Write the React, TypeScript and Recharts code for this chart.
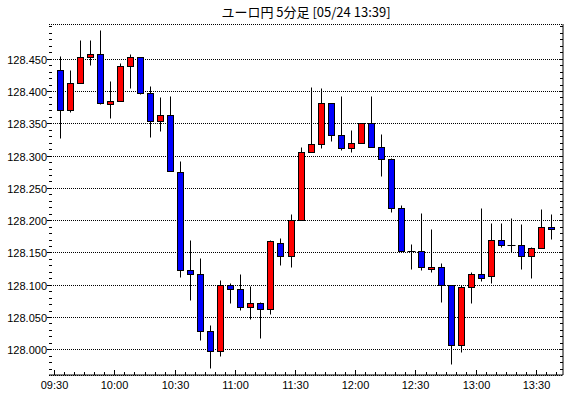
import React from 'react';
import { ComposedChart, Bar, XAxis, YAxis, CartesianGrid } from 'recharts';

// 5-minute candles, EUR/JPY, 05/24
const times = [
  '09:30', '09:35', '09:40', '09:45', '09:50', '09:55', '10:00', '10:05', '10:10', '10:15',
  '10:20', '10:25', '10:30', '10:35', '10:40', '10:45', '10:50', '10:55', '11:00', '11:05',
  '11:10', '11:15', '11:20', '11:25', '11:30', '11:35', '11:40', '11:45', '11:50', '11:55',
  '12:00', '12:05', '12:10', '12:15', '12:20', '12:25', '12:30', '12:35', '12:40', '12:45',
  '12:50', '12:55', '13:00', '13:05', '13:10', '13:15', '13:20', '13:25', '13:30', '13:35',
];
const opens = [
  128.433, 128.370, 128.413, 128.452, 128.458, 128.380, 128.385, 128.438, 128.453, 128.397,
  128.354, 128.363, 128.275, 128.123, 128.117, 128.028, 127.998, 128.100, 128.094, 128.066,
  128.071, 128.063, 128.165, 128.144, 128.200, 128.306, 128.318, 128.382, 128.332, 128.312,
  128.320, 128.351, 128.314, 128.294, 128.219, 128.152, 128.153, 128.125, 128.128, 128.099,
  128.007, 128.096, 128.117, 128.114, 128.170, 128.162, 128.161, 128.145, 128.157, 128.190,
];
const highs = [
  128.454, 128.432, 128.479, 128.479, 128.494, 128.416, 128.444, 128.457, 128.453, 128.408,
  128.390, 128.393, 128.292, 128.170, 128.142, 128.037, 128.108, 128.103, 128.116, 128.098,
  128.074, 128.170, 128.173, 128.209, 128.314, 128.407, 128.404, 128.382, 128.393, 128.340,
  128.351, 128.392, 128.334, 128.297, 128.224, 128.163, 128.211, 128.186, 128.134, 128.099,
  128.099, 128.119, 128.219, 128.196, 128.196, 128.204, 128.194, 128.159, 128.218, 128.209,
];
const lows = [
  128.327, 128.367, 128.413, 128.440, 128.380, 128.358, 128.385, 128.405, 128.396, 128.329,
  128.338, 128.276, 128.112, 128.076, 128.014, 127.971, 127.989, 128.072, 128.061, 128.047,
  128.018, 128.055, 128.131, 128.128, 128.200, 128.305, 128.311, 128.323, 128.308, 128.306,
  128.320, 128.314, 128.269, 128.212, 128.152, 128.124, 128.123, 128.120, 128.074, 127.978,
  127.996, 128.072, 128.106, 128.103, 128.159, 128.151, 128.125, 128.111, 128.157, 128.171,
];
const closes = [
  128.370, 128.413, 128.452, 128.458, 128.382, 128.385, 128.438, 128.453, 128.397, 128.354,
  128.363, 128.276, 128.123, 128.117, 128.028, 127.998, 128.100, 128.094, 128.066, 128.071,
  128.063, 128.167, 128.145, 128.200, 128.306, 128.318, 128.382, 128.332, 128.312, 128.320,
  128.351, 128.314, 128.295, 128.219, 128.152, 128.152, 128.127, 128.128, 128.099, 128.007,
  128.096, 128.117, 128.111, 128.170, 128.162, 128.162, 128.145, 128.157, 128.190, 128.187,
];

const xTickLabels = ['09:30', '10:00', '10:30', '11:00', '11:30', '12:00', '12:30', '13:00', '13:30'];
const yTickLabels = [
  '128.000', '128.050', '128.100', '128.150', '128.200',
  '128.250', '128.300', '128.350', '128.400', '128.450',
];

const FONT = '"Liberation Sans", Arial, sans-serif';
const Y_DOMAIN: [number, number] = [127.9602, 128.5038];
const X_DOMAIN: [number, number] = [-0.52, 50.7];

// plot frame (matches the chart margins / axis sizes below)
const PLOT_LEFT = 49;
const PLOT_RIGHT = 563;
const PLOT_TOP = 24;
const PLOT_BOTTOM = 375;

const data = times.map((t, i) => ({
  t,
  x: i + 0.5,
  open: opens[i],
  high: highs[i],
  low: lows[i],
  close: closes[i],
  range: [lows[i], highs[i]],
}));

// one small tick every 5 min / every 0.01
const xTicks = Array.from({ length: 51 }, (_, i) => i);
const yMajor = yTickLabels.map(Number);
const yMinor = Array.from({ length: 54 }, (_, i) => Math.round((127.97 + i * 0.01) * 1000) / 1000);

const majorIndex = (v: number) => yMajor.findIndex(m => Math.abs(m - v) < 1e-6);
const crisp = (v: number) => Math.round(v) + 0.5;

const LeftTick = (props: any) => {
  const { y, payload } = props;
  const idx = majorIndex(payload.value);
  const yy = crisp(y);
  return (
    <g>
      <line x1={PLOT_LEFT} x2={PLOT_LEFT + 3} y1={yy} y2={yy} stroke="#000" />
      {idx >= 0 && (
        <>
          <line x1={PLOT_LEFT - 2} x2={PLOT_LEFT} y1={yy} y2={yy} stroke="#000" />
          <text x={PLOT_LEFT - 2} y={yy} dy={4} textAnchor="end" fontSize={11} fontFamily={FONT} fill="#000">
            {yTickLabels[idx]}
          </text>
        </>
      )}
    </g>
  );
};

const RightTick = (props: any) => {
  const yy = crisp(props.y);
  return <line x1={PLOT_RIGHT - 3} x2={PLOT_RIGHT} y1={yy} y2={yy} stroke="#000" />;
};

const BottomTick = (props: any) => {
  const { x, payload } = props;
  const major = payload.value % 6 === 0;
  const xx = crisp(x);
  return (
    <g>
      <line x1={xx} x2={xx} y1={PLOT_BOTTOM} y2={PLOT_BOTTOM - (major ? 5 : 3)} stroke="#000" />
      {major && (
        <text x={xx} y={PLOT_BOTTOM + 14} textAnchor="middle" fontSize={11} fontFamily={FONT} fill="#000">
          {xTickLabels[payload.value / 6]}
        </text>
      )}
    </g>
  );
};

const TopTick = (props: any) => {
  const { x, payload } = props;
  const major = payload.value % 6 === 0;
  const xx = crisp(x);
  return <line x1={xx} x2={xx} y1={PLOT_TOP} y2={PLOT_TOP + (major ? 6 : 3)} stroke="#000" />;
};

const GridLine = (props: any) => {
  const { x1, x2, y1 } = props;
  const yy = crisp(y1);
  return <line x1={x1} x2={x2} y1={yy} y2={yy} stroke="#000" strokeWidth={1} strokeDasharray="1 1" />;
};

const Candle = (props: any) => {
  const { x, y, width, height, payload } = props;
  if (!payload) return null;
  const { open, close, high, low } = payload;
  const yHigh = Math.min(y, y + height);
  const yLow = Math.max(y, y + height);
  const k = (yLow - yHigh) / (high - low || 1);
  const py = (v: number) => Math.round(yHigh + (high - v) * k) + 0.5;
  const cx = Math.round(x + width / 2) + 0.5;
  const yo = py(open);
  const yc = py(close);
  const flat = Math.abs(open - close) < 1e-9;
  const color = close > open ? '#ff0000' : '#0000ff';
  return (
    <g>
      <line x1={cx} x2={cx} y1={py(high)} y2={py(low)} stroke="#000" strokeWidth={1} />
      {flat ? (
        <line x1={cx - 4} x2={cx + 4} y1={yo} y2={yo} stroke="#000" strokeWidth={1} />
      ) : (
        <rect
          x={cx - 3}
          y={Math.min(yo, yc)}
          width={6}
          height={Math.max(Math.abs(yo - yc), 1)}
          fill={color}
          stroke="#000"
          strokeWidth={1}
        />
      )}
    </g>
  );
};

export default function App() {
  return (
    <div style={{ position: 'fixed', left: 0, top: 0, width: 570, height: 398, background: '#fff' }}>
      <div
        style={{
          position: 'absolute',
          left: PLOT_LEFT,
          top: 5,
          width: PLOT_RIGHT - PLOT_LEFT,
          textAlign: 'center',
          fontFamily: '"Noto Sans CJK JP", sans-serif',
          fontSize: 13,
          lineHeight: '14px',
          color: '#000',
        }}
      >
        ユーロ円 5分足 [05/24 13:39]
      </div>
      <ComposedChart
        width={570}
        height={398}
        data={data}
        margin={{ top: PLOT_TOP, right: 0, bottom: 0, left: 0 }}
        style={{ position: 'absolute', left: 0, top: 0 }}
      >
        <CartesianGrid
          xAxisId="main"
          yAxisId="grid"
          vertical={false}
          horizontal={(p: any) => <GridLine key={p.key ?? `g-${p.y1}`} {...p} />}
        />
        <XAxis
          xAxisId="main"
          dataKey="x"
          type="number"
          domain={X_DOMAIN}
          allowDataOverflow
          ticks={xTicks}
          interval={0}
          height={PLOT_BOTTOM === 375 ? 23 : 23}
          tickSize={0}
          tickMargin={0}
          tick={<BottomTick />}
          axisLine={{ stroke: '#000' }}
          tickLine={false}
        />
        <XAxis
          xAxisId="top"
          orientation="top"
          dataKey="x"
          type="number"
          domain={X_DOMAIN}
          allowDataOverflow
          ticks={xTicks}
          interval={0}
          height={0}
          tickSize={0}
          tickMargin={0}
          tick={<TopTick />}
          axisLine={{ stroke: '#000' }}
          tickLine={false}
        />
        <YAxis
          yAxisId="main"
          type="number"
          domain={Y_DOMAIN}
          allowDataOverflow
          ticks={yMinor}
          interval={0}
          width={PLOT_LEFT}
          tickSize={0}
          tickMargin={0}
          tick={<LeftTick />}
          axisLine={{ stroke: '#000' }}
          tickLine={false}
        />
        <YAxis
          yAxisId="right"
          orientation="right"
          type="number"
          domain={Y_DOMAIN}
          allowDataOverflow
          ticks={yMinor}
          interval={0}
          width={570 - PLOT_RIGHT}
          tickSize={0}
          tickMargin={0}
          tick={<RightTick />}
          axisLine={{ stroke: '#000' }}
          tickLine={false}
        />
        <YAxis yAxisId="grid" type="number" domain={Y_DOMAIN} allowDataOverflow ticks={yMajor} hide />
        <Bar
          xAxisId="main"
          yAxisId="main"
          dataKey="range"
          barSize={7}
          shape={<Candle />}
          isAnimationActive={false}
        />
      </ComposedChart>
    </div>
  );
}
